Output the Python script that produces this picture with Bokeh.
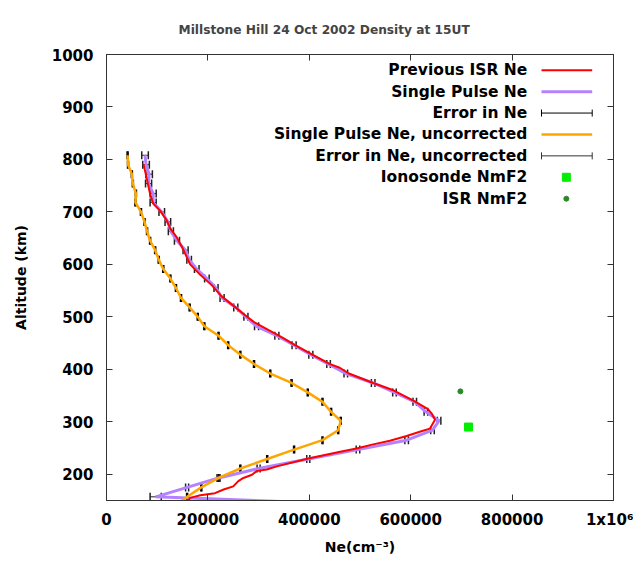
from bokeh.plotting import figure
from bokeh.models import ColumnDataSource, Whisker, TeeHead, LinearAxis, FixedTicker, Range1d
from bokeh.core.properties import value
from bokeh.embed import file_html
from bokeh.resources import INLINE

# ---------------- data ----------------
# Single pulse (corrected) profile, altitude km / Ne cm^-3 / error
alt_sp = [808, 790, 772, 754, 735, 718, 700, 681, 663, 645, 627, 609, 591, 573, 555, 536,
          518, 500, 482, 464, 446, 428, 410, 392, 374, 356, 338, 319, 302, 284, 265, 247,
          229, 211, 193, 175, 157, 139]
ne_sp = [76000, 78000, 84000, 83000, 92000, 92000, 109000, 121000, 127000, 139000, 156000,
         163000, 178000, 198000, 216000, 228000, 255000, 275000, 296000, 336000, 370000,
         403000, 438000, 472000, 526000, 568000, 608000, 630000, 656000, 643000, 592000,
         496000, 398000, 300000, 221000, 159000, 97000, 595000]
err_sp = [6500, 6500, 6500, 6000, 6000, 6000, 5500, 5500, 5000, 5000, 5000, 4500, 4500,
          4500, 4000, 4000, 4000, 4000, 4000, 4000, 4000, 4000, 3500, 3500, 3500, 3500,
          3500, 3500, 3500, 3500, 3500, 3500, 3000, 3000, 3000, 3000, 11000, 11000]

# Single pulse, uncorrected
ne_unc = [41600, 42500, 50000, 52000, 58000, 57000, 68000, 75000, 80000, 86000, 96000,
          103000, 112000, 126000, 137000, 147000, 164000, 180000, 193000, 221000, 240000,
          264000, 291000, 323000, 365000, 397000, 426000, 443000, 462000, 457000, 426000,
          370000, 317000, 264000, 221000, 187000, 159000, 134000]
err_unc = [1000] * len(ne_unc)

# Previous ISR Ne (fine resolution)
alt_prev = [791, 770, 752, 734, 716, 702, 685, 668, 651, 629, 600, 580, 560, 540, 520, 505,
            490, 475, 460, 446, 428, 410, 403, 392, 374, 360, 339, 324, 315, 304, 287, 282,
            273, 264, 257, 249, 243, 230, 215, 209, 206, 199, 193, 187, 177, 171, 164, 160,
            155, 148, 140]
ne_prev = [73000, 78000, 82000, 86000, 92000, 106000, 118000, 126000, 139000, 151000, 165000,
           185000, 208000, 226000, 252000, 271000, 291000, 319000, 348000, 372000, 406000,
           441000, 460000, 478000, 526000, 566000, 608000, 634000, 642000, 648000, 638000,
           621000, 592000, 559000, 526000, 493000, 461000, 398000, 336000, 316000, 296000,
           287000, 270000, 260000, 250000, 231000, 214000, 185000, 165000, 160000, 157000]

# NmF2 points
iono_ne, iono_alt = [714000], [290]
isr_ne, isr_alt = [698000], [358]

x_ticks = [0, 200000, 400000, 600000, 800000, 1000000]
x_labels = ["0", "200000", "400000", "600000", "800000", "1x10\u2076"]
y_ticks = [200, 300, 400, 500, 600, 700, 800, 900, 1000]

legend_labels = ["Previous ISR Ne", "Single Pulse Ne", "Error in Ne",
                 "Single Pulse Ne, uncorrected", "Error in Ne, uncorrected",
                 "Ionosonde NmF2", "ISR NmF2"]

# ---------------- styles ----------------
FONT = "DejaVu Sans"
RED = "#ff0000"
PURPLE = "#b482ff"
ORANGE = "#ffa500"
GREEN = "#00ee00"
DKGREEN = "#2a8a2a"

p = figure(width=633, height=557, x_range=Range1d(0, 1e6), y_range=Range1d(150, 1000),
           output_backend="svg", toolbar_location=None,
           min_border_left=106, min_border_right=20, min_border_top=54, min_border_bottom=56,
           title="Millstone Hill 24 Oct 2002 Density at 15UT")
p.background_fill_color = "white"
p.border_fill_color = "white"
p.outline_line_color = "#333333"
p.outline_line_width = 1
p.grid.visible = False

p.title.align = "left"
p.title.offset = 72
p.title.text_font = FONT
p.title.text_font_style = "bold"
p.title.text_font_size = "12.2px"
p.title.standoff = 36

def style_axis(ax, ticks):
    ax.ticker = FixedTicker(ticks=ticks)
    ax.major_tick_in = 6
    ax.major_tick_out = 0
    ax.minor_tick_line_color = None
    ax.axis_line_color = "#333333"
    ax.major_tick_line_color = "#333333"
    ax.major_label_text_font = FONT
    ax.major_label_text_font_style = "bold"
    ax.major_label_text_font_size = "15px"
    ax.major_label_text_color = "black"
    ax.axis_label_text_font = FONT
    ax.axis_label_text_font_style = "bold"
    ax.axis_label_text_font_size = "14px"
    ax.axis_label_text_color = "black"

xa = p.xaxis[0]
style_axis(xa, x_ticks)
xa.major_label_overrides = {t: l for t, l in zip(x_ticks, x_labels)}
xa.major_label_standoff = 10
xa.axis_label = "Ne(cm\u207b\u00b3)"
xa.axis_label_standoff = 7

ya = p.yaxis[0]
style_axis(ya, y_ticks)
ya.major_label_standoff = 13
ya.axis_label = "Altitude (km)"
ya.axis_label_standoff = 20

top = LinearAxis()
style_axis(top, x_ticks)
top.major_label_overrides = {t: "" for t in x_ticks}
top.major_label_standoff = 0
p.add_layout(top, "above")
right = LinearAxis()
style_axis(right, y_ticks)
right.major_label_overrides = {t: "" for t in y_ticks}
right.major_label_standoff = 0
p.add_layout(right, "right")

# ---------------- curves ----------------
p.line(ne_sp, alt_sp, line_color=PURPLE, line_width=3)
p.line(ne_prev, alt_prev, line_color=RED, line_width=2)
p.line(ne_unc, alt_sp, line_color=ORANGE, line_width=2.5)

def whisker(xs, ys, errs, color, head):
    src = ColumnDataSource(dict(base=ys, lo=[x - e for x, e in zip(xs, errs)],
                                hi=[x + e for x, e in zip(xs, errs)]))
    w = Whisker(source=src, base="base", lower="lo", upper="hi", dimension="width",
                line_color=color, line_width=1,
                upper_head=TeeHead(size=head, line_color=color, line_width=1.5),
                lower_head=TeeHead(size=head, line_color=color, line_width=1.5))
    p.add_layout(w)

whisker(ne_unc, alt_sp, err_unc, "black", 8)
whisker(ne_sp, alt_sp, err_sp, "#222222", 8)

p.scatter(iono_ne, iono_alt, marker="square", size=8, fill_color=GREEN, line_color=GREEN)
p.scatter(isr_ne, isr_alt, marker="circle", size=5, fill_color=DKGREEN, line_color=DKGREEN)

# ---------------- legend (drawn by hand, text right aligned) ----------------
LEG_TEXT_X = 830000
LEG_X0, LEG_X1, LEG_XM = 858000, 958000, 907000
LEG_Y0, LEG_DY = 970, 40.8
ly = [LEG_Y0 - i * LEG_DY for i in range(len(legend_labels))]

p.text(x=[LEG_TEXT_X] * len(legend_labels), y=ly, text=legend_labels,
       text_align="right", text_baseline="middle", text_font=value(FONT),
       text_font_style="bold", text_font_size="15.5px", text_color="black")
p.line([LEG_X0, LEG_X1], [ly[0], ly[0]], line_color=RED, line_width=2)
p.line([LEG_X0, LEG_X1], [ly[1], ly[1]], line_color=PURPLE, line_width=3)
p.line([LEG_X0, LEG_X1], [ly[3], ly[3]], line_color=ORANGE, line_width=2.5)
for i, c in ((2, "black"), (4, "#333333")):
    src = ColumnDataSource(dict(base=[ly[i]], lo=[LEG_X0], hi=[LEG_X1]))
    p.add_layout(Whisker(source=src, base="base", lower="lo", upper="hi", dimension="width",
                         line_color=c, line_width=1,
                         upper_head=TeeHead(size=7, line_color=c, line_width=1),
                         lower_head=TeeHead(size=7, line_color=c, line_width=1)))
p.scatter([LEG_XM], [ly[5]], marker="square", size=8, fill_color=GREEN, line_color=GREEN)
p.scatter([LEG_XM], [ly[6]], marker="circle", size=5, fill_color=DKGREEN, line_color=DKGREEN)

open("out.html", "w").write(file_html(p, INLINE))
